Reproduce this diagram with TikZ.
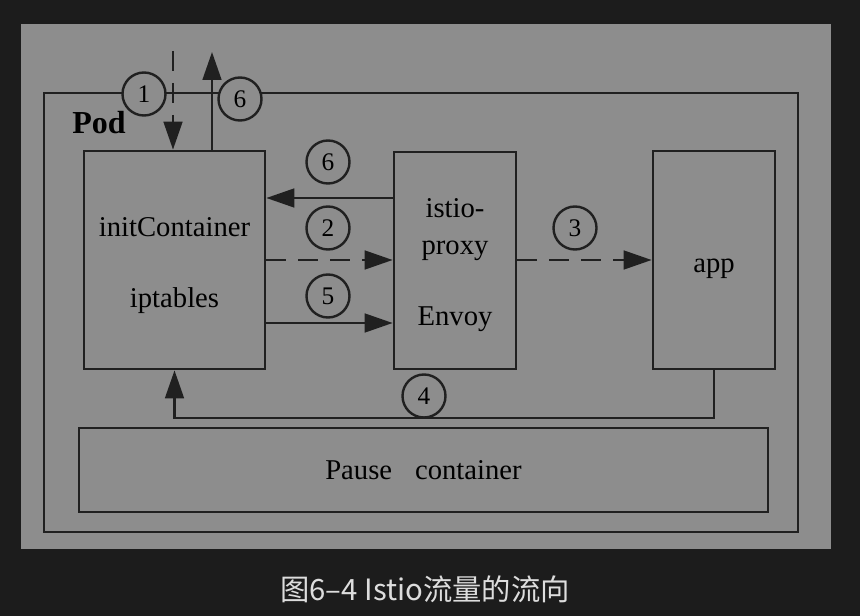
\documentclass[tikz,border=0pt]{standalone}
\usepackage{fontspec}
\setmainfont{Liberation Serif}
\newfontfamily\cjkfont{Noto Sans CJK SC}
\usetikzlibrary{arrows.meta, positioning}
\definecolor{panelgray}{HTML}{8D8D8D}
\definecolor{darkbg}{HTML}{1C1C1C}
\definecolor{inkblack}{HTML}{202020}
\definecolor{captiongray}{HTML}{DDDDDD}
\newdimen\px
\px=0.75pt
\tikzset{
	boxnode/.style={
			rectangle,
			draw=inkblack,
			line width=2pt,
			inner sep=0pt
		},
	boxtext/.style={
			inner sep=0pt,
			align=center,
			text=black,
			font=\fontsize{21.5}{27.75}\selectfont
		},
	numnode/.style={
			circle,
			draw=inkblack,
			fill=panelgray,
			line width=1.8pt,
			minimum size=43\px,
			inner sep=0pt,
			font=\fontsize{19}{19}\selectfont
		},
	flowline/.style={
			draw=inkblack,
			line width=2pt,
			-{Triangle[length=21pt, width=14pt]}
		},
	dashflow/.style={
			flowline,
			dash pattern=on 15pt off 9pt
		}
}
\begin{document}
\begin{tikzpicture}[x=0.75pt, y=-0.75pt]
\fill[darkbg] (0,0) rectangle (860,616);
\fill[panelgray] (21,24) rectangle (831,549);

\node (pod) at (421,312.5) [boxnode, minimum width=754\px, minimum height=439\px] {};
\node (podlabel) at (99,123) [font=\fontsize{24}{24}\selectfont\bfseries, text=black] {Pod};
\node (init) at (174.5,260) [boxnode, minimum width=181\px, minimum height=218\px] {};
\node (proxy) at (455,260.5) [boxnode, minimum width=122\px, minimum height=217\px] {};
\node (app) at (714,260) [boxnode, minimum width=122\px, minimum height=218\px] {};
\node (pause) at (423.5,470) [boxnode, minimum width=689\px, minimum height=84\px] {};

\node (inittext) at ([yshift=-4.5pt]init.center) [boxtext] {initContainer\\[25.5pt]iptables};
\node (proxytext) at ([yshift=-3.75pt]proxy.center) [boxtext] {istio-\\proxy\\[25.5pt]Envoy};
\node (apptext) at ([yshift=-6.5pt]app.center) [boxtext] {app};
\node (pausetext) at (pause.center) [boxtext] {Pause\hspace{0.8em}container};

\coordinate (in1) at (173,51);
\coordinate (out6) at (212,52);
\coordinate (loop) at (424,418);

\draw[dashflow] (in1) -- (in1 |- init.north);
\draw[flowline] (init.north -| out6) -- (out6);
\draw[flowline] (proxy.west |- 0,198) -- (init.east |- 0,198);
\draw[dashflow] (init.east |- 0,260) -- (proxy.west |- 0,260);
\draw[flowline] (init.east |- 0,323) -- (proxy.west |- 0,323);
\draw[dashflow] (proxy.east |- 0,260) -- (app.west |- 0,260);
\draw[flowline] (app.south) |- (loop) -| (init.south);

\node (c1) at (144,94) [numnode] {1};
\node (c6top) at (240,99) [numnode] {6};
\node (c6) at (328,162) [numnode] {6};
\node (c2) at (328,228) [numnode] {2};
\node (c5) at (328,296) [numnode] {5};
\node (c3) at (575,228) [numnode] {3};
\node (c4) at (424,396) [numnode] {4};

\node (caption) at (425,589) [text=captiongray, font=\cjkfont\fontsize{22}{22}\selectfont] {图6–4 Istio流量的流向};
\end{tikzpicture}
\end{document}
